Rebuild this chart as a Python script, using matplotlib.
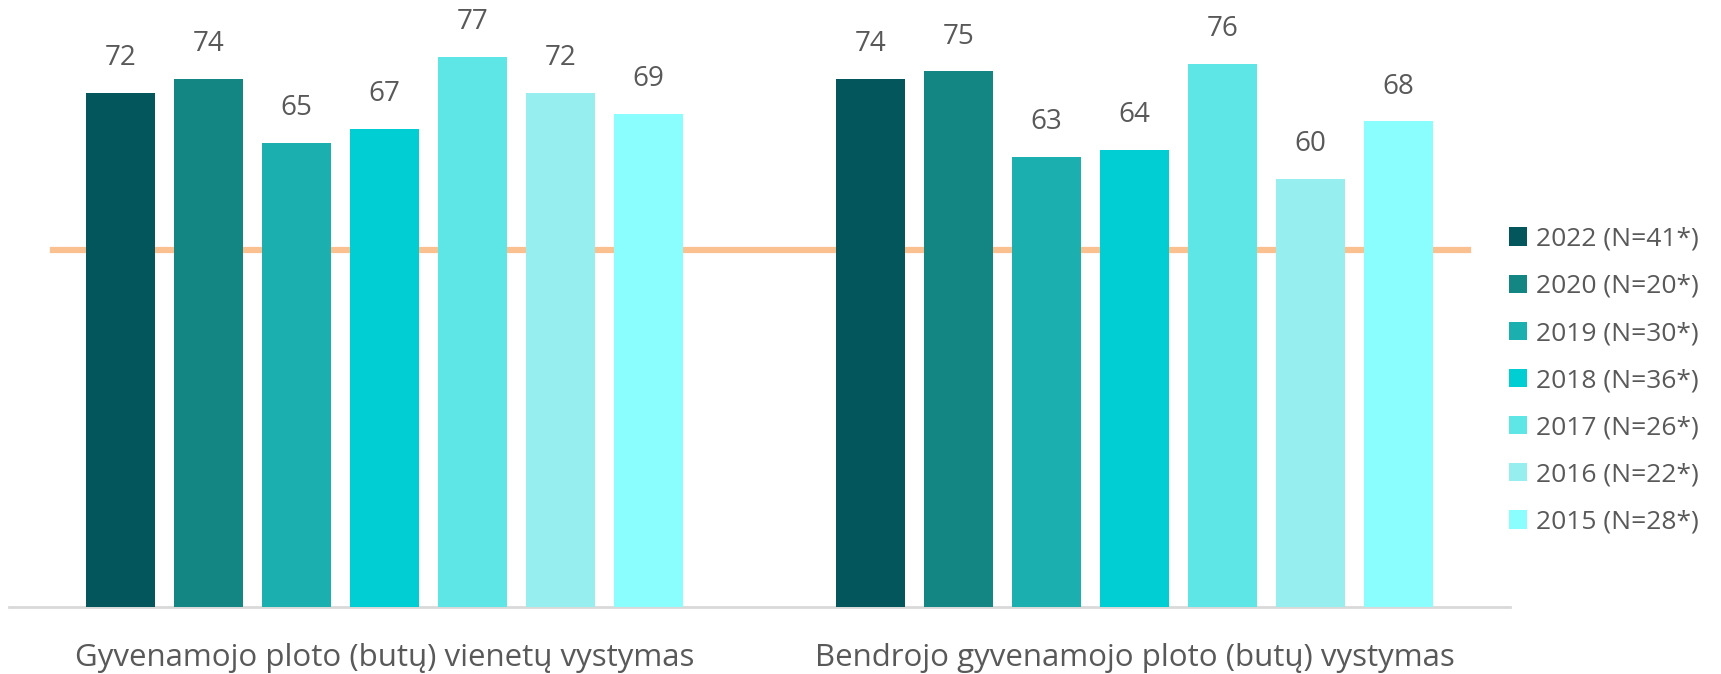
import matplotlib.pyplot as plt
import numpy as np

plt.rcParams["font.family"] = ["Open Sans", "DejaVu Sans"]

categories = ["Gyvenamojo ploto (butų) vienetų vystymas",
              "Bendrojo gyvenamojo ploto (butų) vystymas"]
series = ["2022 (N=41*)", "2020 (N=20*)", "2019 (N=30*)", "2018 (N=36*)",
          "2017 (N=26*)", "2016 (N=22*)", "2015 (N=28*)"]
values = [
    [72, 74],
    [74, 75],
    [65, 63],
    [67, 64],
    [77, 76],
    [72, 60],
    [69, 68],
]
reference = 50
colors = ["#03575C", "#138582", "#1BB0AF", "#00CED3", "#5EE5E6", "#96EEEE", "#8AFDFF"]
text_color = "#595959"

fig = plt.figure(figsize=(17.21, 6.74), dpi=100)
ax = fig.add_axes([0.0055, 0.0994, 0.8717, 0.9006])

x = np.arange(len(categories))
step = 0.1173
width = 0.092
n = len(series)
for i, (name, vals, c) in enumerate(zip(series, values, colors)):
    pos = x + (i - (n - 1) / 2) * step
    bars = ax.bar(pos, vals, width, color=c, label=name, zorder=3)
    for b, v in zip(bars, vals):
        ax.annotate(str(v), (b.get_x() + b.get_width() / 2, v),
                    xytext=(0, 15), textcoords="offset points",
                    ha="center", va="bottom", fontsize=20,
                    color=text_color)

ax.axhline(reference, xmin=0.029, xmax=0.972, color="#FAC090", lw=4.5, zorder=1)

ax.set_xlim(-0.5, 1.5)
ax.set_ylim(0, 85)
ax.set_xticks(x)
ax.set_xticklabels(categories, fontsize=22.5, color=text_color)
ax.tick_params(axis="x", length=0, pad=26)
ax.set_yticks([])
for s in ["top", "right", "left"]:
    ax.spines[s].set_visible(False)
ax.spines["bottom"].set_color("#D9D9D9")
ax.spines["bottom"].set_linewidth(2)

leg = fig.legend(loc="center left", bbox_to_anchor=(0.877, 0.435), frameon=False,
                 fontsize=19, handlelength=0.68, handleheight=0.68,
                 handletextpad=0.34, labelspacing=0.84, borderpad=0,
                 borderaxespad=0)
for t in leg.get_texts():
    t.set_color(text_color)

fig.savefig("out.png", dpi=100)
